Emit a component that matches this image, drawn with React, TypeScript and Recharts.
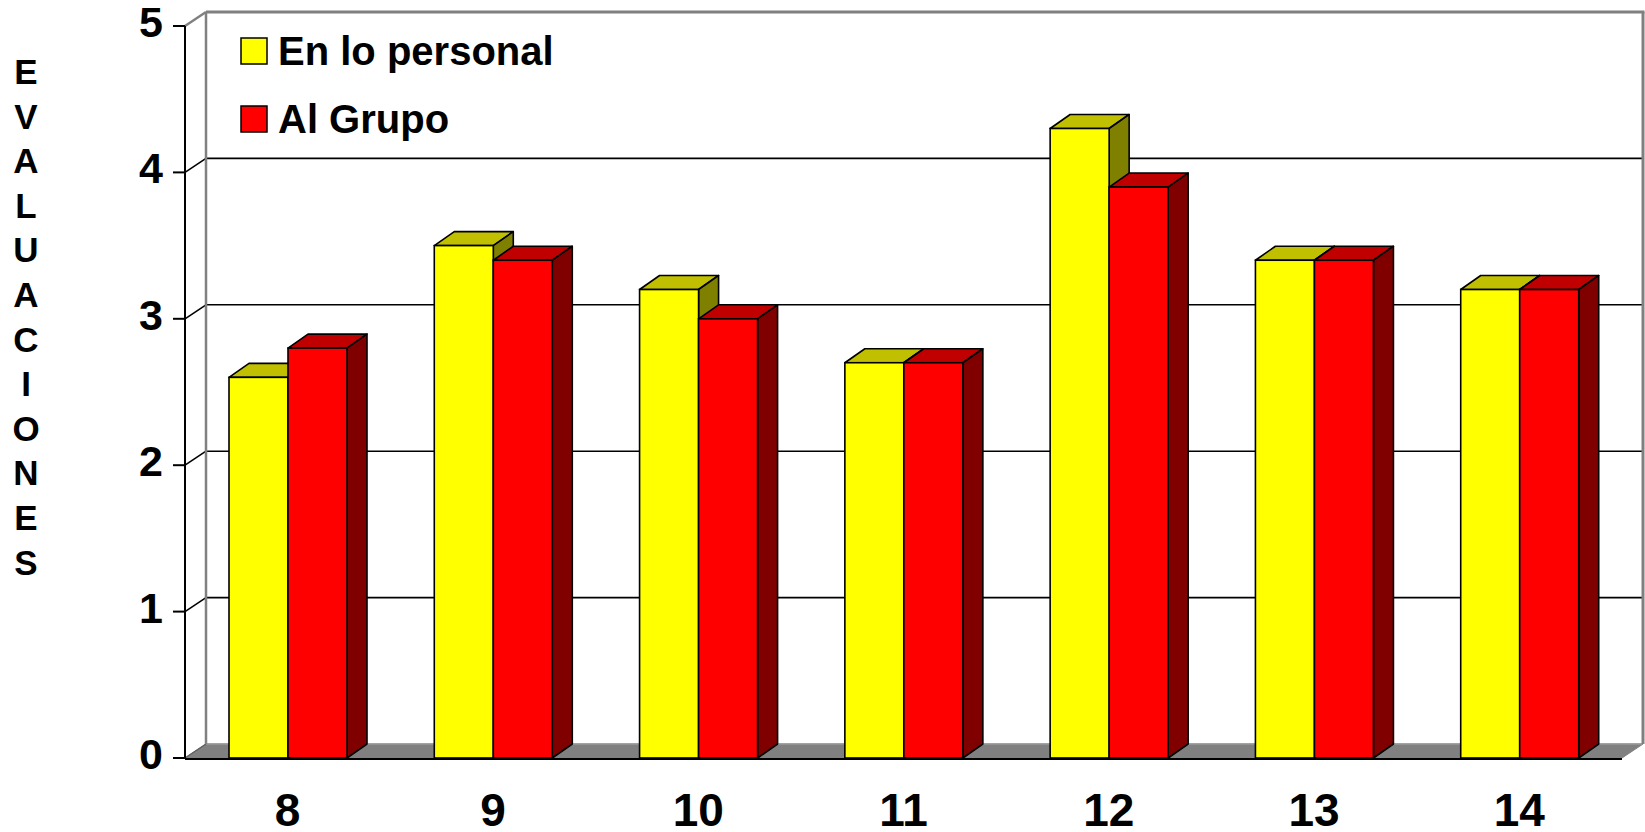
import React from 'react';
import { BarChart, Bar, XAxis, YAxis, CartesianGrid, Legend } from 'recharts';

const categories = ['8', '9', '10', '11', '12', '13', '14'];
const personalValues = [2.6, 3.5, 3.2, 2.7, 4.3, 3.4, 3.2];
const grupoValues = [2.8, 3.4, 3.0, 2.7, 3.9, 3.4, 3.2];
const yTicks = [0, 1, 2, 3, 4, 5];
const yAxisTitle = 'EVALUACIONES';
const seriesNames = ['En lo personal', 'Al Grupo'];

const data = categories.map((c, i) => ({ cat: c, personal: personalValues[i], grupo: grupoValues[i] }));
const edgeTicks = [...categories.map((_, i) => i), categories.length];

const FONT = "Arial, 'Liberation Sans', Helvetica, sans-serif";
const WALL_DX = 21;
const WALL_DY = -14;
const BAR_DX = 20;
const BAR_DY = -14;

const makeBarShape = (front: string, top: string, side: string) => (props: any) => {
  const { x, y, width, height } = props;
  if (width == null || height == null) return null;
  const sw = 1.6;
  return (
    <g>
      <polygon
        points={`${x},${y} ${x + BAR_DX},${y + BAR_DY} ${x + width + BAR_DX},${y + BAR_DY} ${x + width},${y}`}
        fill={top}
        stroke="#000"
        strokeWidth={sw}
        strokeLinejoin="round"
      />
      <polygon
        points={`${x + width},${y} ${x + width + BAR_DX},${y + BAR_DY} ${x + width + BAR_DX},${y + height + BAR_DY} ${x + width},${y + height}`}
        fill={side}
        stroke="#000"
        strokeWidth={sw}
        strokeLinejoin="round"
      />
      <rect x={x} y={y} width={width} height={height} fill={front} stroke="#000" strokeWidth={sw} />
    </g>
  );
};

const yellowShape = makeBarShape('#FFFF00', '#C0C000', '#808000');
const redShape = makeBarShape('#FF0000', '#C00000', '#800000');

const gridLine = (p: any) => {
  const { x1, y1, x2, y2 } = p;
  const top = p.y;
  const bottom = p.y != null && p.height != null ? p.y + p.height : undefined;
  const isBottom = bottom != null && Math.abs(y1 - bottom) < 1;
  const isTop = top != null && Math.abs(y1 - top) < 1;
  if (isBottom) {
    return (
      <g key={p.key}>
        <polygon
          points={`${x1},${y1} ${x2},${y2} ${x2 + WALL_DX},${y2 + WALL_DY} ${x1 + WALL_DX},${y1 + WALL_DY}`}
          fill="#808080"
          stroke="#808080"
          strokeWidth={1}
        />
        <line x1={x1 + WALL_DX} y1={y1 + WALL_DY} x2={x2 + WALL_DX} y2={y2 + WALL_DY} stroke="#9a9a9a" strokeWidth={1.5} />
        <line x1={x1} y1={y1} x2={x1 + WALL_DX} y2={y1 + WALL_DY} stroke="#606060" strokeWidth={1.5} />
      </g>
    );
  }
  if (isTop) {
    return (
      <g key={p.key}>
        <line x1={x1 + WALL_DX} y1={y1 + WALL_DY} x2={x1 + WALL_DX} y2={bottom + WALL_DY} stroke="#808080" strokeWidth={2.5} />
        <line x1={x2 + WALL_DX} y1={y2 + WALL_DY} x2={x2 + WALL_DX} y2={bottom + WALL_DY} stroke="#808080" strokeWidth={3} />
        <line x1={x1 + WALL_DX} y1={y1 + WALL_DY} x2={x2 + WALL_DX + 1.5} y2={y2 + WALL_DY} stroke="#808080" strokeWidth={3} />
        <line x1={x1} y1={y1} x2={x1 + WALL_DX} y2={y1 + WALL_DY} stroke="#808080" strokeWidth={2.5} />
      </g>
    );
  }
  return (
    <g key={p.key}>
      <line x1={x1 + WALL_DX} y1={y1 + WALL_DY} x2={x2 + WALL_DX} y2={y2 + WALL_DY} stroke="#000" strokeWidth={1.6} />
      <line x1={x1} y1={y1} x2={x1 + WALL_DX} y2={y1 + WALL_DY} stroke="#000" strokeWidth={1.6} />
    </g>
  );
};

const YTick = (props: any) => {
  const { x, y, payload } = props;
  return (
    <text x={x} y={y + 11} textAnchor="end" fontFamily={FONT} fontWeight="bold" fontSize={43} fill="#000">
      {payload.value}
    </text>
  );
};

const XTick = (props: any) => {
  const { x, y, payload } = props;
  return (
    <text x={x} y={y + 68} textAnchor="middle" fontFamily={FONT} fontWeight="bold" fontSize={46} fill="#000">
      {payload.value}
    </text>
  );
};

const LegendContent = (props: any) => {
  const payload = [...(props.payload || [])].sort(
    (a: any, b: any) => seriesNames.indexOf(a.value) - seriesNames.indexOf(b.value)
  );
  return (
    <svg width={420} height={140} style={{ display: 'block' }}>
      {payload.map((entry: any, i: number) => (
        <g key={i} transform={`translate(0, ${i * 68})`}>
          <rect x={11} y={8} width={26} height={26} fill={entry.color} stroke="#000" strokeWidth={1.5} />
          <text x={48} y={35.3} fontFamily={FONT} fontWeight="bold" fontSize={40} fill="#000">
            {entry.value}
          </text>
        </g>
      ))}
    </svg>
  );
};

export default function App() {
  return (
    <div style={{ position: 'absolute', left: 0, top: 0, width: 1645, height: 832, background: '#fff' }}>
      <BarChart
        width={1645}
        height={832}
        data={data}
        margin={{ top: 26, right: 23, bottom: 72, left: 0 }}
        barGap={0}
        barSize={59}
      >
        <CartesianGrid horizontal={gridLine} vertical={false} stroke="#000" />
        <XAxis
          xAxisId="edges"
          type="number"
          domain={[0, categories.length]}
          ticks={edgeTicks}
          allowDataOverflow
          height={1}
          tick={false}
          tickSize={12}
          axisLine={{ stroke: '#000', strokeWidth: 2 }}
          tickLine={{ stroke: '#000', strokeWidth: 2 }}
        />
        <XAxis
          xAxisId="cat"
          dataKey="cat"
          height={1}
          axisLine={false}
          tickLine={false}
          tickSize={0}
          tickMargin={0}
          tick={<XTick />}
          interval={0}
        />
        <YAxis
          domain={[0, 5]}
          ticks={yTicks}
          width={185}
          tickSize={12}
          tickMargin={10}
          axisLine={{ stroke: '#000', strokeWidth: 2 }}
          tickLine={{ stroke: '#000', strokeWidth: 2 }}
          tick={<YTick />}
          interval={0}
        />
        <Legend
          layout="vertical"
          align="center"
          verticalAlign="middle"
          wrapperStyle={{ position: 'absolute', left: 230, top: 30, width: 420, height: 140 }}
          content={<LegendContent />}
        />
        <Bar xAxisId="cat" dataKey="personal" name={seriesNames[0]} fill="#FFFF00" shape={yellowShape} isAnimationActive={false} />
        <Bar xAxisId="cat" dataKey="grupo" name={seriesNames[1]} fill="#FF0000" shape={redShape} isAnimationActive={false} />
      </BarChart>
      <div
        style={{
          position: 'absolute',
          left: 6,
          top: 50,
          width: 40,
          fontFamily: FONT,
          fontWeight: 'bold',
          fontSize: 35,
          lineHeight: '44.6px',
          textAlign: 'center',
          color: '#000',
        }}
      >
        {yAxisTitle.split('').map((ch, i) => (
          <div key={i}>{ch}</div>
        ))}
      </div>
    </div>
  );
}
